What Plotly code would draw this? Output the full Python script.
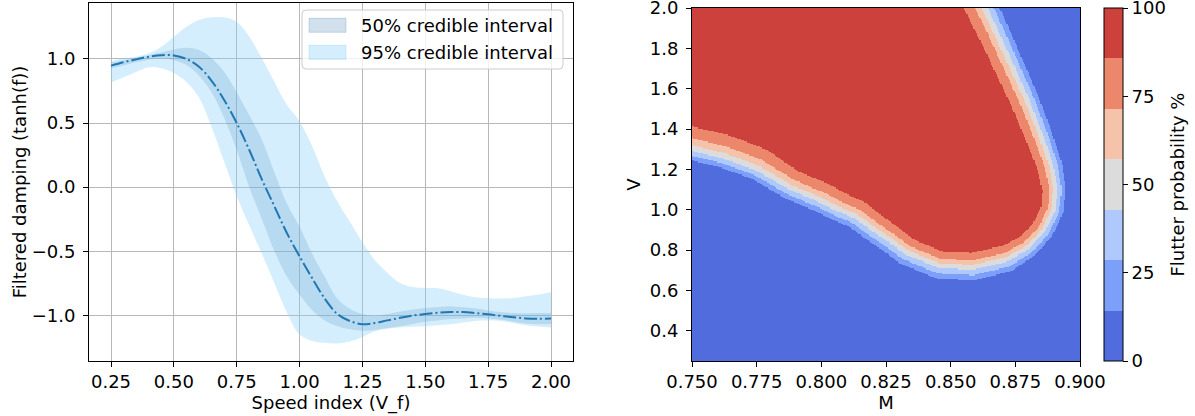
import numpy as np
import plotly.graph_objects as go

# ---------------- left panel data ----------------
speed = [0.25, 0.30, 0.35, 0.40, 0.45, 0.50, 0.55, 0.60, 0.65, 0.70, 0.75, 0.80,
         0.85, 0.90, 0.95, 1.00, 1.05, 1.10, 1.15, 1.20, 1.25, 1.30, 1.35, 1.40,
         1.45, 1.50, 1.55, 1.60, 1.65, 1.70, 1.75, 1.80, 1.85, 1.90, 1.95, 2.00]
mean_damp = [0.948, 0.975, 0.997, 1.018, 1.030, 1.028, 1.000, 0.940, 0.830, 0.680, 0.500, 0.290,
             0.060, -0.150, -0.360, -0.540, -0.710, -0.870, -0.990, -1.045, -1.070, -1.060, -1.040, -1.020,
             -1.003, -0.990, -0.980, -0.975, -0.975, -0.983, -0.993, -1.005, -1.015, -1.025, -1.028, -1.026]
ci50_hi = [0.971, 0.990, 1.010, 1.030, 1.050, 1.075, 1.088, 1.070, 1.005, 0.900, 0.740, 0.560,
           0.370, 0.115, -0.130, -0.310, -0.520, -0.700, -0.870, -0.950, -0.990, -1.005, -0.990, -0.970,
           -0.955, -0.943, -0.935, -0.930, -0.938, -0.948, -0.962, -0.975, -0.982, -0.985, -0.983, -0.980]
ci50_lo = [0.927, 0.950, 0.975, 0.995, 1.005, 0.990, 0.953, 0.870, 0.740, 0.540, 0.290, 0.000,
           -0.250, -0.500, -0.700, -0.840, -0.960, -1.040, -1.085, -1.110, -1.120, -1.115, -1.100, -1.086,
           -1.068, -1.050, -1.040, -1.030, -1.025, -1.020, -1.026, -1.036, -1.050, -1.065, -1.070, -1.070]
ci95_hi = [0.984, 1.005, 1.018, 1.044, 1.096, 1.174, 1.252, 1.304, 1.325, 1.325, 1.290, 1.174,
           1.005, 0.820, 0.640, 0.515, 0.320, 0.080, -0.110, -0.270, -0.430, -0.570, -0.670, -0.748,
           -0.780, -0.787, -0.790, -0.813, -0.840, -0.860, -0.868, -0.870, -0.865, -0.852, -0.838, -0.820]
ci95_lo = [0.816, 0.857, 0.899, 0.935, 0.927, 0.890, 0.820, 0.700, 0.470, 0.200, -0.070, -0.300,
           -0.520, -0.750, -0.980, -1.150, -1.200, -1.215, -1.220, -1.205, -1.170, -1.125, -1.105, -1.096,
           -1.090, -1.086, -1.078, -1.070, -1.057, -1.044, -1.040, -1.044, -1.060, -1.078, -1.088, -1.096]
legend_labels = ["50% credible interval", "95% credible interval"]
left_xticks = [0.25, 0.50, 0.75, 1.00, 1.25, 1.50, 1.75, 2.00]
left_yticks = [-1.0, -0.5, 0.0, 0.5, 1.0]

# ---------------- right panel data ----------------
mach_range = [0.75, 0.90]
vel_range = [0.25, 2.0]
# 50 % flutter-probability line (M, V)
edge50_M = [0.745, 0.750, 0.762, 0.775, 0.788, 0.800, 0.807, 0.8136, 0.820, 0.8265, 0.833, 0.8458,
            0.8587, 0.8716, 0.8794, 0.8858, 0.8897, 0.8905, 0.8890, 0.8845, 0.8794, 0.8736, 0.8677,
            0.8632, 0.861]
edge50_V = [1.315, 1.302, 1.265, 1.205, 1.110, 1.045, 1.000, 0.965, 0.905, 0.850, 0.790, 0.722,
            0.715, 0.753, 0.811, 0.895, 1.000, 1.100, 1.216, 1.382, 1.547, 1.712, 1.878,
            2.000, 2.060]
# local width of the transition on the high / low side of that line
edge_hi_width = [1.45, 1.45, 1.45, 1.4, 1.2, 1.2, 1.15, 1.1, 1.05, 1.0, 0.95, 0.95,
                 0.95, 0.95, 0.85, 0.8, 0.8, 0.85, 0.95, 1.05, 1.1, 1.15, 1.2, 1.25, 1.25]
edge_lo_width = [1.0, 1.0, 1.0, 1.0, 1.05, 1.05, 1.05, 1.05, 1.1, 1.1, 1.15, 1.15,
                 1.15, 1.1, 0.95, 0.9, 0.9, 0.9, 0.95, 1.0, 1.05, 1.1, 1.15, 1.2, 1.2]
# distance (screen px) of each contour level from the 50 % line
level_offsets = [-11.5, -7.0, -2.3, 2.3, 7.0, 15.0]
level_values = [100 / 7 * k for k in range(1, 7)]
cbar_ticks = [0, 25, 50, 75, 100]
cbar_title = "Flutter probability %"
band_colors = ["#516cdc", "#7c9ff9", "#afc9fc", "#dcdcdc", "#f4c3aa", "#ed876b", "#cc413b"]
right_xticks = [0.750, 0.775, 0.800, 0.825, 0.850, 0.875, 0.900]
right_yticks = [0.4, 0.6, 0.8, 1.0, 1.2, 1.4, 1.6, 1.8, 2.0]

# ---------------- build probability map ----------------
W, H = 1195, 416
ax1_px = (89, 573, 3, 361)
ax2_px = (692, 1080, 8, 361)
sx = (ax2_px[1] - ax2_px[0]) / (mach_range[1] - mach_range[0])
sy = (ax2_px[3] - ax2_px[2]) / (vel_range[1] - vel_range[0])

Mg = np.linspace(mach_range[0], mach_range[1], 331)
Vg = np.linspace(vel_range[0], vel_range[1], 301)
MM, VV = np.meshgrid(Mg, Vg)
P = np.stack([(MM - mach_range[0]) * sx, (VV - vel_range[0]) * sy], -1).reshape(-1, 2)
bm = np.array(edge50_M)
bv = np.array(edge50_V)
pts = np.stack([(bm - mach_range[0]) * sx, (bv - vel_range[0]) * sy], -1)
A = pts[:-1]
B = pts[1:]
AB = B - A
AP = P[:, None, :] - A[None, :, :]
t = np.clip((AP * AB[None]).sum(-1) / (AB * AB).sum(-1)[None], 0, 1)
proj = A[None] + t[..., None] * AB[None]
d = np.linalg.norm(P[:, None, :] - proj, axis=-1)
idx = np.argmin(d, axis=1)
n = np.arange(P.shape[0])
dist = d[n, idx]
cross = AB[idx, 0] * AP[n, idx, 1] - AB[idx, 1] * AP[n, idx, 0]
sgn = np.where(cross >= 0, 1.0, -1.0)
tt = t[n, idx]
hw = np.array(edge_hi_width)
lw = np.array(edge_lo_width)
hs = hw[idx] * (1 - tt) + hw[idx + 1] * tt
ls = lw[idx] * (1 - tt) + lw[idx + 1] * tt
sd = sgn * dist
scaled = np.where(sd >= 0, sd / hs, sd / ls)
prob = np.interp(scaled, [-80] + level_offsets + [120], [0] + level_values + [100])
prob = prob.reshape(MM.shape)

cscale = []
for k, c in enumerate(band_colors):
    cscale.append([k / 7, c])
    cscale.append([(k + 1) / 7, c])

# ---------------- figure ----------------
FONT = dict(family="DejaVu Sans", size=18, color="black")
fig = go.Figure()

c95 = "rgba(135,206,250,0.35)"
c50 = "rgba(70,130,180,0.25)"
fig.add_trace(go.Scatter(x=speed, y=ci50_lo, mode="lines", line=dict(width=0, shape="spline"),
                         showlegend=False, hoverinfo="skip", xaxis="x", yaxis="y"))
fig.add_trace(go.Scatter(x=speed, y=ci50_hi, mode="lines", line=dict(width=0, shape="spline"),
                         fill="tonexty", fillcolor=c50, name=legend_labels[0],
                         showlegend=False, xaxis="x", yaxis="y"))
fig.add_trace(go.Scatter(x=speed, y=ci95_lo, mode="lines", line=dict(width=0, shape="spline"),
                         showlegend=False, hoverinfo="skip", xaxis="x", yaxis="y"))
fig.add_trace(go.Scatter(x=speed, y=ci95_hi, mode="lines", line=dict(width=0, shape="spline"),
                         fill="tonexty", fillcolor=c95, name=legend_labels[1],
                         showlegend=False, xaxis="x", yaxis="y"))
fig.add_trace(go.Scatter(x=speed, y=mean_damp, mode="lines",
                         line=dict(color="#1f77b4", width=2, dash="13px,3px,2px,3px", shape="spline"),
                         showlegend=False, xaxis="x", yaxis="y"))

fig.add_trace(go.Heatmap(
    x=Mg, y=Vg, z=prob, zmin=0, zmax=100, colorscale=cscale, zsmooth=False,
    xaxis="x2", yaxis="y2",
    colorbar=dict(
        x=1104 / W, xanchor="left", xpad=0, ypad=0,
        y=1 - 361 / H, yanchor="bottom", len=(361 - 8) / H, lenmode="fraction",
        thickness=19, thicknessmode="pixels",
        outlinewidth=1, outlinecolor="black",
        tickvals=cbar_ticks, ticks="outside", ticklen=5, tickwidth=1, tickcolor="black",
        tickfont=FONT, ticklabeloverflow="allow",
    ),
))

axis_common = dict(showline=True, mirror=True, linecolor="black", linewidth=1,
                   ticks="outside", ticklen=5, tickwidth=1, tickcolor="black",
                   tickfont=FONT, zeroline=False, automargin=False,
                   ticklabeloverflow="allow")


def px(xp):
    return xp / W


def py(yp):
    return 1 - yp / H


# custom legend (matplotlib-style box with patches)
lb = (302, 563, 10, 69)
r = 4
box_path = (f"M{px(lb[0] + r)},{py(lb[2])} L{px(lb[1] - r)},{py(lb[2])} "
            f"Q{px(lb[1])},{py(lb[2])} {px(lb[1])},{py(lb[2] + r)} "
            f"L{px(lb[1])},{py(lb[3] - r)} Q{px(lb[1])},{py(lb[3])} {px(lb[1] - r)},{py(lb[3])} "
            f"L{px(lb[0] + r)},{py(lb[3])} Q{px(lb[0])},{py(lb[3])} {px(lb[0])},{py(lb[3] - r)} "
            f"L{px(lb[0])},{py(lb[2] + r)} Q{px(lb[0])},{py(lb[2])} {px(lb[0] + r)},{py(lb[2])} Z")
shapes = [dict(type="path", xref="paper", yref="paper", path=box_path,
               fillcolor="rgba(255,255,255,0.8)", line=dict(color="#cccccc", width=1))]
annotations = []
for i, (lab, col) in enumerate(zip(legend_labels, [c50, c95])):
    yc = 25.3 + i * 27
    shapes.append(dict(type="rect", xref="paper", yref="paper",
                       x0=px(309), x1=px(346), y0=py(yc - 7), y1=py(yc + 7),
                       fillcolor=col, line=dict(color=col, width=1)))
    annotations.append(dict(text=lab, xref="paper", yref="paper", x=px(359), y=py(yc),
                            xanchor="left", yanchor="middle", showarrow=False, font=FONT))
# colorbar label
annotations.append(dict(text=cbar_title, xref="paper", yref="paper", x=px(1177),
                        y=py((ax2_px[2] + ax2_px[3]) / 2), textangle=-90,
                        xanchor="center", yanchor="middle", showarrow=False, font=FONT))

fig.update_layout(
    width=W, height=H, margin=dict(l=0, r=0, t=0, b=0),
    paper_bgcolor="white", plot_bgcolor="white", font=FONT, showlegend=False,
    xaxis=dict(domain=[px(ax1_px[0]), px(ax1_px[1])], range=[0.1625, 2.0875], tickvals=left_xticks,
               tickformat=".2f", showgrid=True, gridcolor="#b8b8b8", gridwidth=1,
               ticklabelstandoff=-1,
               title=dict(text="Speed index (V_f)", font=FONT, standoff=0), anchor="y",
               **axis_common),
    yaxis=dict(domain=[py(ax1_px[3]), py(ax1_px[2])], range=[-1.357, 1.437], tickvals=left_yticks,
               tickformat=".1f", showgrid=True, gridcolor="#b8b8b8", gridwidth=1,
               ticklabelstandoff=4,
               title=dict(text="Filtered damping (tanh(f))", font=FONT, standoff=0), anchor="x",
               **axis_common),
    xaxis2=dict(domain=[px(ax2_px[0]), px(ax2_px[1])], range=mach_range, tickvals=right_xticks,
                tickformat=".3f", showgrid=False, ticklabelstandoff=-1,
                title=dict(text="M", font=FONT, standoff=0), anchor="y2", **axis_common),
    yaxis2=dict(domain=[py(ax2_px[3]), py(ax2_px[2])], range=vel_range,
                tickvals=right_yticks, tickformat=".1f", showgrid=False, ticklabelstandoff=4,
                title=dict(text="V", font=FONT, standoff=4), anchor="x2", **axis_common),
    shapes=shapes,
    annotations=annotations,
)

fig.write_html("out.html", config={"displayModeBar": False},
               post_script="document.body.style.margin='0';")
